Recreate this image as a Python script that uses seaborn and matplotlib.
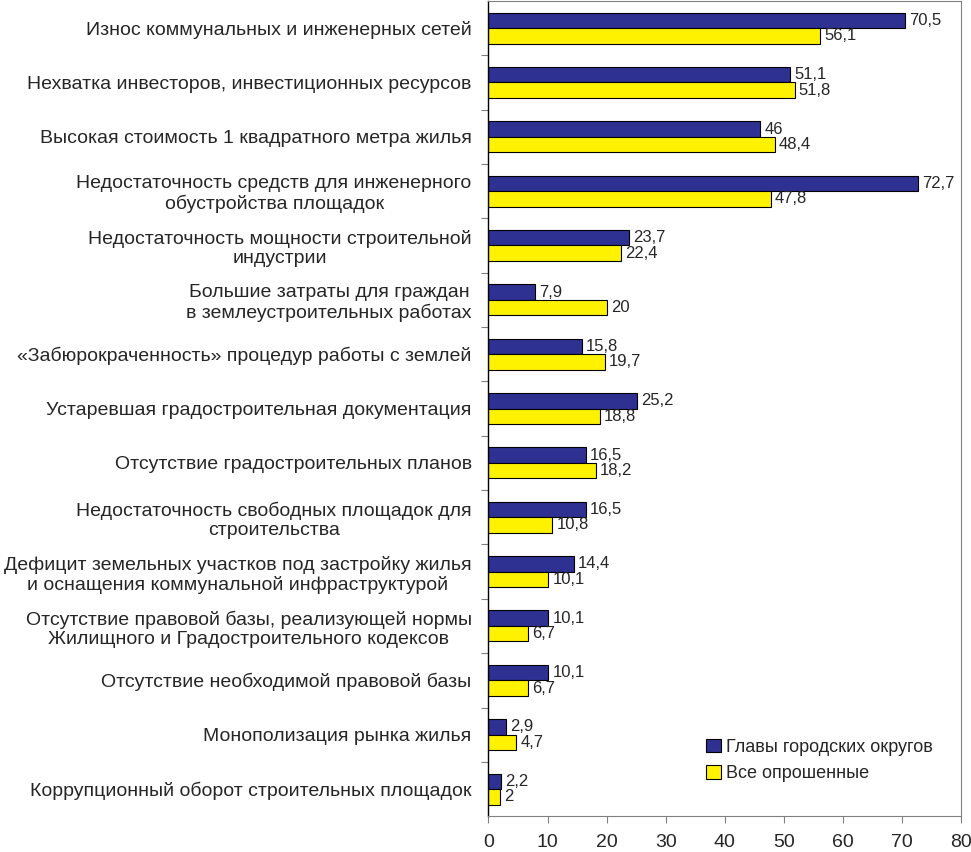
import pandas as pd
import matplotlib
matplotlib.use('Agg')
import matplotlib.pyplot as plt
import seaborn as sns

categories = [
    'Износ коммунальных и инженерных сетей',
    'Нехватка инвесторов, инвестиционных ресурсов',
    'Высокая стоимость 1 квадратного метра жилья',
    'Недостаточность средств для инженерного\nобустройства площадок',
    'Недостаточность мощности строительной\nиндустрии',
    'Большие затраты для граждан\nв землеустроительных работах',
    '«Забюрокраченность» процедур работы с землей',
    'Устаревшая градостроительная документация',
    'Отсутствие градостроительных планов',
    'Недостаточность свободных площадок для\nстроительства',
    'Дефицит земельных участков под застройку жилья\nи оснащения коммунальной инфраструктурой',
    'Отсутствие правовой базы, реализующей нормы\nЖилищного и Градостроительного кодексов',
    'Отсутствие необходимой правовой базы',
    'Монополизация рынка жилья',
    'Коррупционный оборот строительных площадок',
]
heads = [70.5, 51.1, 46, 72.7, 23.7, 7.9, 15.8, 25.2, 16.5, 16.5, 14.4, 10.1, 10.1, 2.9, 2.2]
all_resp = [56.1, 51.8, 48.4, 47.8, 22.4, 20, 19.7, 18.8, 18.2, 10.8, 10.1, 6.7, 6.7, 4.7, 2]
series = ['Главы городских округов', 'Все опрошенные']

df = pd.DataFrame({
    'cat': categories * 2,
    'val': heads + all_resp,
    'series': [series[0]] * len(categories) + [series[1]] * len(categories),
})

sns.set_style('white')
plt.rcParams['font.family'] = ['Liberation Sans', 'DejaVu Sans']

fig, ax = plt.subplots(figsize=(9.71, 8.52), dpi=100)
fig.subplots_adjust(left=0.503, right=0.99, top=0.999, bottom=0.042)

sns.barplot(data=df, y='cat', x='val', hue='series', order=categories,
            palette=['#2E3192', '#FFF200'], edgecolor='black', linewidth=0.8,
            width=0.57, orient='h', ax=ax, saturation=1)

def fmt(v):
    return ('%g' % v).replace('.', ',')

for cont in ax.containers:
    ax.bar_label(cont, labels=[fmt(b.get_width()) for b in cont],
                 padding=3, fontsize=12)

ax.set_xlim(0, 80)
ax.set_ylim(len(categories) - 0.5, -0.5)
ax.set_xticks(range(0, 81, 10))
ax.set_xlabel('')
ax.set_ylabel('')

ax.tick_params(axis='x', labelsize=14, length=5, width=0.8, color='#808080',
               direction='out', bottom=True, pad=8)
ax.tick_params(axis='y', which='major', length=0, labelsize=14, pad=12)
ax.set_yticks([i + 0.5 for i in range(len(categories) - 1)], minor=True)
ax.tick_params(axis='y', which='minor', length=5, width=0.8, color='#808080', left=True)
for lab in ax.get_yticklabels():
    lab.set_multialignment('center')
    lab.set_linespacing(1.15)

for s in ['top', 'right', 'bottom']:
    ax.spines[s].set_color('#808080')
    ax.spines[s].set_linewidth(0.8)
ax.spines['left'].set_color('black')
ax.spines['left'].set_linewidth(1.0)

ax.legend(loc='lower right', bbox_to_anchor=(0.975, 0.022), frameon=False,
          fontsize=13, handlelength=0.8, handleheight=0.8, handletextpad=0.3,
          labelspacing=0.5)

fig.savefig('out.png', dpi=100)
